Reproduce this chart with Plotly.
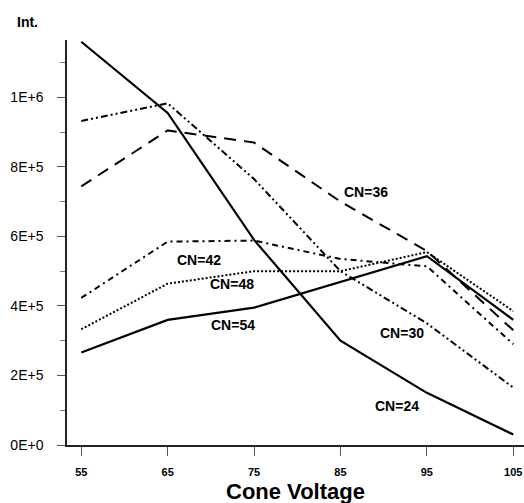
import plotly.graph_objects as go

# Cone voltage settings (V)
cone_voltage = [55, 65, 75, 85, 95, 105]

# Intensity per carbon number series
cn24 = [1.16e6, 0.955e6, 0.59e6, 0.30e6, 0.15e6, 0.03e6]
cn30 = [0.932e6, 0.983e6, 0.765e6, 0.50e6, 0.35e6, 0.165e6]
cn36 = [0.744e6, 0.905e6, 0.87e6, 0.70e6, 0.558e6, 0.33e6]
cn42 = [0.423e6, 0.585e6, 0.588e6, 0.535e6, 0.514e6, 0.29e6]
cn48 = [0.333e6, 0.464e6, 0.50e6, 0.50e6, 0.555e6, 0.385e6]
cn54 = [0.266e6, 0.36e6, 0.395e6, 0.47e6, 0.543e6, 0.36e6]

y_tickvals = [0, 2e5, 4e5, 6e5, 8e5, 1e6]
y_ticktext = ["0E+0", "2E+5", "4E+5", "6E+5", "8E+5", "1E+6"]

# series name, values, dash pattern, line width, label position (x, y)
series = [
    ("CN=24", cn24, "solid", 2.2, (91.5, 0.111e6)),
    ("CN=30", cn30, "7px,3px,2px,3px,2px,3px", 2, (92.1, 0.322e6)),
    ("CN=36", cn36, "12px,8px", 2, (88.0, 0.729e6)),
    ("CN=42", cn42, "6px,4px,2px,4px", 2, (68.6, 0.532e6)),
    ("CN=48", cn48, "2px,2px", 2, (72.5, 0.463e6)),
    ("CN=54", cn54, "solid", 2.2, (72.6, 0.345e6)),
]

FONT = "Liberation Sans, Arial, sans-serif"

fig = go.Figure()
for name, vals, dash, width, _ in series:
    fig.add_trace(go.Scatter(
        x=cone_voltage, y=vals, mode="lines", name=name,
        line=dict(color="black", width=width, dash=dash),
        showlegend=False,
    ))

annotations = []
for name, _, _, _, (lx, ly) in series:
    annotations.append(dict(
        x=lx, y=ly, xref="x", yref="y", text=name, showarrow=False,
        font=dict(family=FONT, size=14, color="black", weight="bold"),
    ))

# plot area in pixels, used to place the axis captions
plot_l, plot_t, plot_w, plot_h = 67, 40, 457, 405.5

annotations.append(dict(
    x=(27 - plot_l) / plot_w, y=(plot_t + plot_h - 22) / plot_h,
    xref="paper", yref="paper", text="Int.", showarrow=False,
    xanchor="center", yanchor="middle",
    font=dict(family=FONT, size=14, color="black", weight="bold"),
))
annotations.append(dict(
    x=0.5, y=-0.1147, xref="paper", yref="paper", text="Cone Voltage",
    showarrow=False, yanchor="middle",
    font=dict(family=FONT, size=22, color="black", weight="bold"),
))

fig.update_layout(
    width=524, height=503,
    margin=dict(l=67, r=0, t=40, b=57.5),
    paper_bgcolor="white", plot_bgcolor="white",
    font=dict(family=FONT, color="black"),
    annotations=annotations,
)

fig.update_xaxes(
    range=[53.35, 106.24],
    tickvals=cone_voltage,
    ticktext=[str(v) for v in cone_voltage],
    ticks="outside", ticklen=9, tickcolor="#555", tickwidth=1,
    tickfont=dict(family=FONT, size=11, color="black", weight="bold"),
    ticklabelstandoff=7,
    showline=True, linecolor="#222", linewidth=1.5,
    showgrid=False, zeroline=False,
)

fig.update_yaxes(
    range=[0, 1.165e6],
    tickvals=y_tickvals, ticktext=y_ticktext,
    ticks="outside", ticklen=8, tickcolor="#555", tickwidth=1,
    tickfont=dict(family=FONT, size=14, color="black"),
    ticklabelstandoff=11,
    minor=dict(dtick=1e5, tick0=0, ticks="outside", ticklen=5, tickcolor="#777", showgrid=False),
    showline=True, linecolor="#222", linewidth=1.5,
    showgrid=False, zeroline=False,
)

fig.write_html("out.html")
